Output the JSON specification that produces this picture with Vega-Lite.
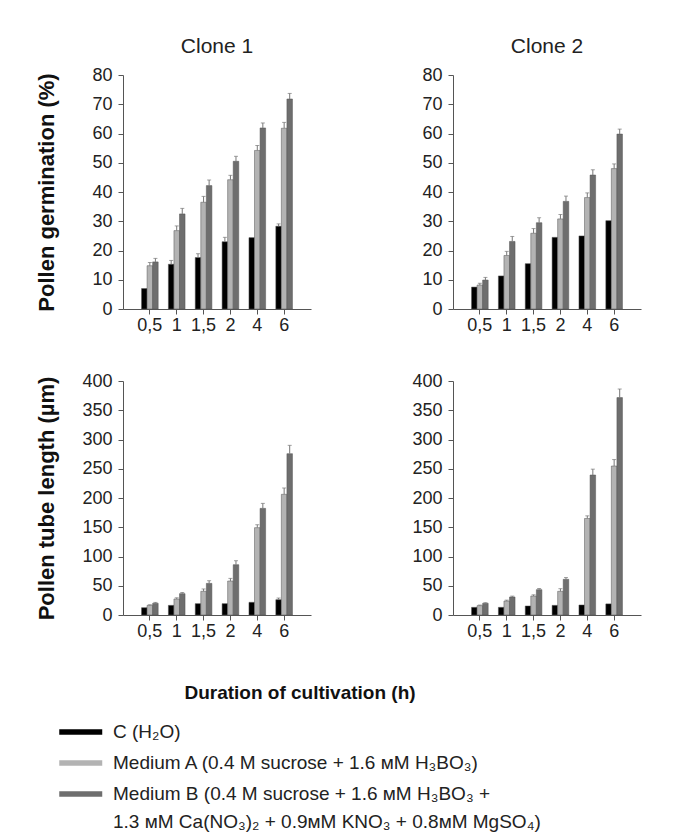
{
  "$schema": "https://vega.github.io/schema/vega-lite/v6.json",
  "background": "white",
  "padding": {"left": 35, "top": 36, "right": 5, "bottom": 5},
  "datasets": {
    "pollen": [
      {"clone": "Clone 1", "measure": "G", "time": "0,5", "medium": "C", "value": 7.0, "hi": null},
      {"clone": "Clone 1", "measure": "G", "time": "0,5", "medium": "A", "value": 14.8, "hi": 15.9},
      {"clone": "Clone 1", "measure": "G", "time": "0,5", "medium": "B", "value": 16.1, "hi": 17.3},
      {"clone": "Clone 1", "measure": "G", "time": "1", "medium": "C", "value": 15.3, "hi": 16.6},
      {"clone": "Clone 1", "measure": "G", "time": "1", "medium": "A", "value": 26.8, "hi": 28.4},
      {"clone": "Clone 1", "measure": "G", "time": "1", "medium": "B", "value": 32.5, "hi": 34.4},
      {"clone": "Clone 1", "measure": "G", "time": "1,5", "medium": "C", "value": 17.6, "hi": 18.9},
      {"clone": "Clone 1", "measure": "G", "time": "1,5", "medium": "A", "value": 36.5, "hi": 38.5},
      {"clone": "Clone 1", "measure": "G", "time": "1,5", "medium": "B", "value": 42.2, "hi": 44.1},
      {"clone": "Clone 1", "measure": "G", "time": "2", "medium": "C", "value": 23.0, "hi": 24.5},
      {"clone": "Clone 1", "measure": "G", "time": "2", "medium": "A", "value": 44.2, "hi": 45.7},
      {"clone": "Clone 1", "measure": "G", "time": "2", "medium": "B", "value": 50.5, "hi": 52.2},
      {"clone": "Clone 1", "measure": "G", "time": "4", "medium": "C", "value": 24.4, "hi": null},
      {"clone": "Clone 1", "measure": "G", "time": "4", "medium": "A", "value": 54.2, "hi": 55.9},
      {"clone": "Clone 1", "measure": "G", "time": "4", "medium": "B", "value": 61.9, "hi": 63.6},
      {"clone": "Clone 1", "measure": "G", "time": "6", "medium": "C", "value": 28.3, "hi": 29.1},
      {"clone": "Clone 1", "measure": "G", "time": "6", "medium": "A", "value": 61.8, "hi": 63.8},
      {"clone": "Clone 1", "measure": "G", "time": "6", "medium": "B", "value": 71.8, "hi": 73.7},

      {"clone": "Clone 2", "measure": "G", "time": "0,5", "medium": "C", "value": 7.5, "hi": null},
      {"clone": "Clone 2", "measure": "G", "time": "0,5", "medium": "A", "value": 8.2, "hi": 8.8},
      {"clone": "Clone 2", "measure": "G", "time": "0,5", "medium": "B", "value": 9.9, "hi": 10.8},
      {"clone": "Clone 2", "measure": "G", "time": "1", "medium": "C", "value": 11.3, "hi": null},
      {"clone": "Clone 2", "measure": "G", "time": "1", "medium": "A", "value": 18.3, "hi": 19.7},
      {"clone": "Clone 2", "measure": "G", "time": "1", "medium": "B", "value": 23.1, "hi": 24.8},
      {"clone": "Clone 2", "measure": "G", "time": "1,5", "medium": "C", "value": 15.5, "hi": null},
      {"clone": "Clone 2", "measure": "G", "time": "1,5", "medium": "A", "value": 25.9, "hi": 27.5},
      {"clone": "Clone 2", "measure": "G", "time": "1,5", "medium": "B", "value": 29.5, "hi": 31.2},
      {"clone": "Clone 2", "measure": "G", "time": "2", "medium": "C", "value": 24.5, "hi": null},
      {"clone": "Clone 2", "measure": "G", "time": "2", "medium": "A", "value": 30.8, "hi": 32.3},
      {"clone": "Clone 2", "measure": "G", "time": "2", "medium": "B", "value": 36.8, "hi": 38.6},
      {"clone": "Clone 2", "measure": "G", "time": "4", "medium": "C", "value": 25.0, "hi": null},
      {"clone": "Clone 2", "measure": "G", "time": "4", "medium": "A", "value": 38.1, "hi": 39.7},
      {"clone": "Clone 2", "measure": "G", "time": "4", "medium": "B", "value": 45.8, "hi": 47.6},
      {"clone": "Clone 2", "measure": "G", "time": "6", "medium": "C", "value": 30.2, "hi": null},
      {"clone": "Clone 2", "measure": "G", "time": "6", "medium": "A", "value": 48.0, "hi": 49.6},
      {"clone": "Clone 2", "measure": "G", "time": "6", "medium": "B", "value": 59.8, "hi": 61.5},

      {"clone": "Clone 1", "measure": "L", "time": "0,5", "medium": "C", "value": 12.5, "hi": null},
      {"clone": "Clone 1", "measure": "L", "time": "0,5", "medium": "A", "value": 16.5, "hi": 17.5},
      {"clone": "Clone 1", "measure": "L", "time": "0,5", "medium": "B", "value": 20.0, "hi": 21.5},
      {"clone": "Clone 1", "measure": "L", "time": "1", "medium": "C", "value": 16.5, "hi": null},
      {"clone": "Clone 1", "measure": "L", "time": "1", "medium": "A", "value": 27.4, "hi": 29.4},
      {"clone": "Clone 1", "measure": "L", "time": "1", "medium": "B", "value": 36.5, "hi": 38.5},
      {"clone": "Clone 1", "measure": "L", "time": "1,5", "medium": "C", "value": 19.4, "hi": null},
      {"clone": "Clone 1", "measure": "L", "time": "1,5", "medium": "A", "value": 40.5, "hi": 44.5},
      {"clone": "Clone 1", "measure": "L", "time": "1,5", "medium": "B", "value": 54.1, "hi": 58.6},
      {"clone": "Clone 1", "measure": "L", "time": "2", "medium": "C", "value": 19.4, "hi": null},
      {"clone": "Clone 1", "measure": "L", "time": "2", "medium": "A", "value": 58.1, "hi": 62.6},
      {"clone": "Clone 1", "measure": "L", "time": "2", "medium": "B", "value": 86.0, "hi": 92.8},
      {"clone": "Clone 1", "measure": "L", "time": "4", "medium": "C", "value": 21.7, "hi": null},
      {"clone": "Clone 1", "measure": "L", "time": "4", "medium": "A", "value": 149.3, "hi": 154.3},
      {"clone": "Clone 1", "measure": "L", "time": "4", "medium": "B", "value": 182.3, "hi": 190.8},
      {"clone": "Clone 1", "measure": "L", "time": "6", "medium": "C", "value": 26.2, "hi": 29.0},
      {"clone": "Clone 1", "measure": "L", "time": "6", "medium": "A", "value": 206.3, "hi": 217.1},
      {"clone": "Clone 1", "measure": "L", "time": "6", "medium": "B", "value": 275.8, "hi": 290.0},

      {"clone": "Clone 2", "measure": "L", "time": "0,5", "medium": "C", "value": 13.1, "hi": null},
      {"clone": "Clone 2", "measure": "L", "time": "0,5", "medium": "A", "value": 16.0, "hi": 17.0},
      {"clone": "Clone 2", "measure": "L", "time": "0,5", "medium": "B", "value": 20.0, "hi": 21.0},
      {"clone": "Clone 2", "measure": "L", "time": "1", "medium": "C", "value": 13.1, "hi": null},
      {"clone": "Clone 2", "measure": "L", "time": "1", "medium": "A", "value": 23.9, "hi": 25.4},
      {"clone": "Clone 2", "measure": "L", "time": "1", "medium": "B", "value": 30.8, "hi": 32.3},
      {"clone": "Clone 2", "measure": "L", "time": "1,5", "medium": "C", "value": 15.4, "hi": null},
      {"clone": "Clone 2", "measure": "L", "time": "1,5", "medium": "A", "value": 32.5, "hi": 34.5},
      {"clone": "Clone 2", "measure": "L", "time": "1,5", "medium": "B", "value": 43.3, "hi": 45.3},
      {"clone": "Clone 2", "measure": "L", "time": "2", "medium": "C", "value": 16.5, "hi": null},
      {"clone": "Clone 2", "measure": "L", "time": "2", "medium": "A", "value": 40.5, "hi": 45.0},
      {"clone": "Clone 2", "measure": "L", "time": "2", "medium": "B", "value": 61.0, "hi": 64.0},
      {"clone": "Clone 2", "measure": "L", "time": "4", "medium": "C", "value": 17.1, "hi": null},
      {"clone": "Clone 2", "measure": "L", "time": "4", "medium": "A", "value": 165.0, "hi": 169.5},
      {"clone": "Clone 2", "measure": "L", "time": "4", "medium": "B", "value": 239.3, "hi": 249.3},
      {"clone": "Clone 2", "measure": "L", "time": "6", "medium": "C", "value": 19.0, "hi": null},
      {"clone": "Clone 2", "measure": "L", "time": "6", "medium": "A", "value": 254.7, "hi": 265.7},
      {"clone": "Clone 2", "measure": "L", "time": "6", "medium": "B", "value": 371.6, "hi": 386.3}
    ]
  },
  "data": {"name": "pollen"},
  "columns": 2,
  "spacing": {"column": 100, "row": 38},
  "concat": [
    {
      "width": 188, "height": 234,
      "title": {"text": "Clone 1"},
      "transform": [{"filter": "datum.clone === 'Clone 1' && datum.measure === 'G'"}],
      "encoding": {
        "x": {"field": "time", "type": "nominal", "sort": ["0,5", "1", "1,5", "2", "4", "6"], "scale": {"paddingInner": 0.38, "paddingOuter": 0.69}, "axis": {"title": null, "labelAngle": 0}},
        "xOffset": {"field": "medium", "type": "nominal", "sort": ["C", "A", "B"], "scale": {"paddingInner": 0, "paddingOuter": 0}}
      },
      "layer": [
        {
          "mark": {"type": "bar", "stroke": "#555555", "strokeWidth": 0.5},
          "encoding": {
            "y": {"field": "value", "type": "quantitative", "scale": {"domain": [0, 80], "nice": false}, "axis": {"title": "Pollen germination (%)", "titlePadding": 33}},
            "color": {
              "field": "medium", "type": "nominal",
              "scale": {"domain": ["C", "A", "B"], "range": ["#000000", "#b3b3b3", "#6e6e6e"]},
              "legend": {
                "title": "Duration of cultivation (h)",
                "orient": "none",
                "legendX": -64,
                "legendY": 609,
                "direction": "vertical",
                "labelExpr": "datum.label === 'C' ? 'C (H₂O)' : datum.label === 'A' ? 'Medium A (0.4 M sucrose + 1.6 мМ H₃BO₃)' : ['Medium B (0.4 M sucrose + 1.6 мМ H₃BO₃ +', '1.3 мМ Ca(NO₃)₂ + 0.9мМ KNO₃ + 0.8мМ MgSO₄)']"
              }
            }
          }
        },
        {
          "transform": [{"filter": "datum.hi != null"}],
          "mark": {"type": "rule", "color": "#777777", "strokeWidth": 1},
          "encoding": {"y": {"field": "value", "type": "quantitative"}, "y2": {"field": "hi"}}
        },
        {
          "transform": [{"filter": "datum.hi != null"}],
          "mark": {"type": "tick", "color": "#777777", "thickness": 1, "size": 4, "orient": "horizontal"},
          "encoding": {"y": {"field": "hi", "type": "quantitative"}}
        }
      ]
    },
    {
      "width": 188, "height": 234,
      "title": {"text": "Clone 2"},
      "transform": [{"filter": "datum.clone === 'Clone 2' && datum.measure === 'G'"}],
      "encoding": {
        "x": {"field": "time", "type": "nominal", "sort": ["0,5", "1", "1,5", "2", "4", "6"], "scale": {"paddingInner": 0.38, "paddingOuter": 0.69}, "axis": {"title": null, "labelAngle": 0}},
        "xOffset": {"field": "medium", "type": "nominal", "sort": ["C", "A", "B"], "scale": {"paddingInner": 0, "paddingOuter": 0}}
      },
      "layer": [
        {
          "mark": {"type": "bar", "stroke": "#555555", "strokeWidth": 0.5},
          "encoding": {
            "y": {"field": "value", "type": "quantitative", "scale": {"domain": [0, 80], "nice": false}, "axis": {"title": null}},
            "color": {"field": "medium", "type": "nominal", "scale": {"domain": ["C", "A", "B"], "range": ["#000000", "#b3b3b3", "#6e6e6e"]}}
          }
        },
        {
          "transform": [{"filter": "datum.hi != null"}],
          "mark": {"type": "rule", "color": "#777777", "strokeWidth": 1},
          "encoding": {"y": {"field": "value", "type": "quantitative"}, "y2": {"field": "hi"}}
        },
        {
          "transform": [{"filter": "datum.hi != null"}],
          "mark": {"type": "tick", "color": "#777777", "thickness": 1, "size": 4, "orient": "horizontal"},
          "encoding": {"y": {"field": "hi", "type": "quantitative"}}
        }
      ]
    },
    {
      "width": 188, "height": 234,
      "transform": [{"filter": "datum.clone === 'Clone 1' && datum.measure === 'L'"}],
      "encoding": {
        "x": {"field": "time", "type": "nominal", "sort": ["0,5", "1", "1,5", "2", "4", "6"], "scale": {"paddingInner": 0.38, "paddingOuter": 0.69}, "axis": {"title": null, "labelAngle": 0}},
        "xOffset": {"field": "medium", "type": "nominal", "sort": ["C", "A", "B"], "scale": {"paddingInner": 0, "paddingOuter": 0}}
      },
      "layer": [
        {
          "mark": {"type": "bar", "stroke": "#555555", "strokeWidth": 0.5},
          "encoding": {
            "y": {"field": "value", "type": "quantitative", "scale": {"domain": [0, 400], "nice": false}, "axis": {"title": "Pollen tube length (µm)", "titlePadding": 23}},
            "color": {"field": "medium", "type": "nominal", "scale": {"domain": ["C", "A", "B"], "range": ["#000000", "#b3b3b3", "#6e6e6e"]}}
          }
        },
        {
          "transform": [{"filter": "datum.hi != null"}],
          "mark": {"type": "rule", "color": "#777777", "strokeWidth": 1},
          "encoding": {"y": {"field": "value", "type": "quantitative"}, "y2": {"field": "hi"}}
        },
        {
          "transform": [{"filter": "datum.hi != null"}],
          "mark": {"type": "tick", "color": "#777777", "thickness": 1, "size": 4, "orient": "horizontal"},
          "encoding": {"y": {"field": "hi", "type": "quantitative"}}
        }
      ]
    },
    {
      "width": 188, "height": 234,
      "transform": [{"filter": "datum.clone === 'Clone 2' && datum.measure === 'L'"}],
      "encoding": {
        "x": {"field": "time", "type": "nominal", "sort": ["0,5", "1", "1,5", "2", "4", "6"], "scale": {"paddingInner": 0.38, "paddingOuter": 0.69}, "axis": {"title": null, "labelAngle": 0}},
        "xOffset": {"field": "medium", "type": "nominal", "sort": ["C", "A", "B"], "scale": {"paddingInner": 0, "paddingOuter": 0}}
      },
      "layer": [
        {
          "mark": {"type": "bar", "stroke": "#555555", "strokeWidth": 0.5},
          "encoding": {
            "y": {"field": "value", "type": "quantitative", "scale": {"domain": [0, 400], "nice": false}, "axis": {"title": null}},
            "color": {"field": "medium", "type": "nominal", "scale": {"domain": ["C", "A", "B"], "range": ["#000000", "#b3b3b3", "#6e6e6e"]}}
          }
        },
        {
          "transform": [{"filter": "datum.hi != null"}],
          "mark": {"type": "rule", "color": "#777777", "strokeWidth": 1},
          "encoding": {"y": {"field": "value", "type": "quantitative"}, "y2": {"field": "hi"}}
        },
        {
          "transform": [{"filter": "datum.hi != null"}],
          "mark": {"type": "tick", "color": "#777777", "thickness": 1, "size": 4, "orient": "horizontal"},
          "encoding": {"y": {"field": "hi", "type": "quantitative"}}
        }
      ]
    }
  ],
  "config": {
    "font": "Liberation Sans",
    "view": {"stroke": null},
    "title": {"fontSize": 21, "fontWeight": "normal", "color": "#222222", "offset": 9, "font": "Liberation Sans"},
    "style": {"guide-label": {"lineHeight": 28}},
    "axis": {
      "grid": false,
      "domainColor": "#555555",
      "tickColor": "#555555",
      "tickSize": 5,
      "labelOverlap": false,
      "labelFont": "Liberation Sans",
      "labelFontSize": 18,
      "labelColor": "#222222",
      "titleFont": "Liberation Sans",
      "titleFontSize": 22,
      "titleFontWeight": "bold",
      "titleColor": "#111111"
    },
    "axisY": {"labelPadding": 6, "tickCount": 8, "labelOverlap": false},
    "axisX": {"labelPadding": 2},
    "legend": {
      "titleFont": "Liberation Sans",
      "titleFontSize": 19,
      "titleFontWeight": "bold",
      "titleColor": "#111111",
      "titleAnchor": "middle",
      "titleLimit": 1000,
      "titlePadding": 18,
      "labelFont": "Liberation Sans",
      "labelFontSize": 19,
      "labelColor": "#222222",
      "labelLimit": 700,
      "labelOffset": 32,
      "rowPadding": 10,
      "symbolType": "M-1,-0.25H3V0.25H-1Z",
      "symbolSize": 462,
      "symbolStrokeWidth": 0
    }
  }
}
